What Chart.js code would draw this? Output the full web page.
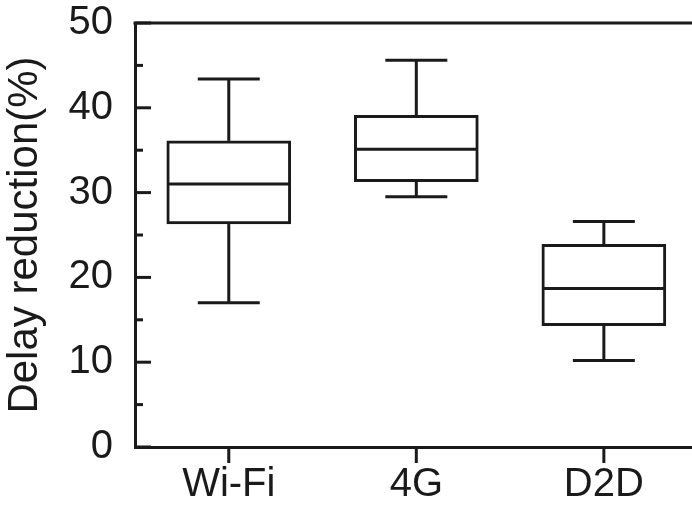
<!DOCTYPE html>
<html>
<head>
<meta charset="utf-8">
<script src="https://cdn.jsdelivr.net/npm/chart.js@4.4.1/dist/chart.umd.min.js"></script>
<style>
  html, body { margin: 0; padding: 0; background: #fff; }
  #wrap { width: 692px; height: 505px; }
</style>
</head>
<body>
<div id="wrap"><canvas id="grafico"></canvas></div>
<script>
// dados (caixa e bigodes)
const categorias = ["Wi-Fi", "4G", "D2D"];
const bigodeInf = [17.0, 29.5, 10.2];
const quartil1 = [26.3, 31.3, 14.3];
const mediana = [31.0, 35.1, 18.7];
const quartil3 = [36.1, 39.1, 23.9];
const bigodeSup = [43.4, 45.6, 26.6];
const ticksY = [0, 10, 20, 30, 40, 50];
const ticksYMenores = [5, 15, 25, 35, 45];

const TINTA = "#1a1a1a";
const FONTE = "'Liberation Sans', Arial, sans-serif";
const TAM_FONTE = 40;
const LARG_CAIXA = 121;
const LARG_TAMPA = 62;

// whiskers, medianas, moldura superior e marcas de escala
const desenhoCaixas = {
    id: "desenhoCaixas",
    afterDatasetsDraw(chart) {
        const { ctx, chartArea: area, scales: { x, y } } = chart;
        ctx.save();
        ctx.strokeStyle = TINTA;
        ctx.lineWidth = 3;
        ctx.lineCap = "butt";
        const linha = (x1, y1, x2, y2) => {
            ctx.beginPath(); ctx.moveTo(x1, y1); ctx.lineTo(x2, y2); ctx.stroke();
        };
        categorias.forEach((_, i) => {
            const cx = x.getPixelForValue(i + 1);
            const yQ1 = y.getPixelForValue(quartil1[i]);
            const yQ3 = y.getPixelForValue(quartil3[i]);
            const yMin = y.getPixelForValue(bigodeInf[i]);
            const yMax = y.getPixelForValue(bigodeSup[i]);
            const yMed = y.getPixelForValue(mediana[i]);
            linha(cx, yQ3, cx, yMax);
            linha(cx - LARG_TAMPA / 2, yMax, cx + LARG_TAMPA / 2, yMax);
            linha(cx, yQ1, cx, yMin);
            linha(cx - LARG_TAMPA / 2, yMin, cx + LARG_TAMPA / 2, yMin);
            linha(cx - LARG_CAIXA / 2, yMed, cx + LARG_CAIXA / 2, yMed);
        });
        // moldura superior
        linha(area.left - 1.5, area.top, area.right, area.top);
        // marcas do eixo y (para dentro)
        ticksY.forEach(v => {
            const py = y.getPixelForValue(v);
            linha(area.left, py, area.left + 16, py);
        });
        ticksYMenores.forEach(v => {
            const py = y.getPixelForValue(v);
            linha(area.left, py, area.left + 8, py);
        });
        // marcas do eixo x (para fora)
        categorias.forEach((_, i) => {
            const px = x.getPixelForValue(i + 1);
            linha(px, area.bottom, px, area.bottom + 16);
        });
        ctx.restore();
    },
};

new Chart(document.getElementById("grafico"), {
    type: "bar",
    data: {
        datasets: [{
            data: categorias.map((_, i) => ({ x: i + 1, y: [quartil1[i], quartil3[i]] })),
            backgroundColor: "#ffffff",
            borderColor: TINTA,
            borderWidth: 3,
            borderSkipped: false,
            barThickness: LARG_CAIXA + 3,
        }],
    },
    options: {
        responsive: true,
        maintainAspectRatio: false,
        animation: false,
        layout: { padding: { top: 23, right: 0, left: 0, bottom: 0 } },
        plugins: { legend: { display: false }, tooltip: { enabled: false } },
        scales: {
            x: {
                type: "linear",
                offset: false,
                min: 0.5,
                max: 3.47,
                grid: { display: false, drawTicks: false, offset: false },
                border: { color: TINTA, width: 3 },
                afterBuildTicks: s => { s.ticks = categorias.map((_, i) => ({ value: i + 1 })); },
                afterFit: s => { s.height = 58; s.paddingLeft = 0; s.paddingRight = 0; },
                ticks: {
                    color: TINTA,
                    padding: 14,
                    font: { family: FONTE, size: TAM_FONTE },
                    callback: v => categorias[v - 1],
                },
            },
            y: {
                min: 0,
                max: 50,
                grid: { display: false, drawTicks: false },
                border: { color: TINTA, width: 3 },
                afterBuildTicks: s => { s.ticks = ticksY.map(v => ({ value: v })); },
                afterFit: s => { s.width = 135; s.paddingTop = 0; s.paddingBottom = 0; },
                ticks: {
                    color: TINTA,
                    padding: 22,
                    font: { family: FONTE, size: TAM_FONTE },
                },
                title: {
                    display: true,
                    text: "Delay reduction(%)",
                    color: TINTA,
                    padding: { top: 0, bottom: 0 },
                    font: { family: FONTE, size: 42 },
                },
            },
        },
    },
    plugins: [desenhoCaixas],
});
</script>
</body>
</html>
